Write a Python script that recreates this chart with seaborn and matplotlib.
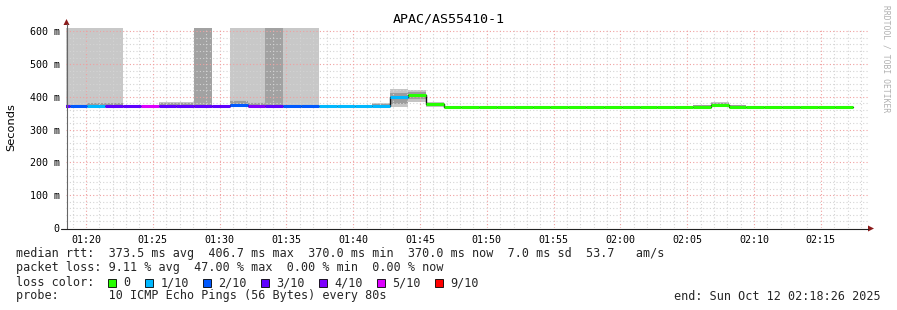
import numpy as np
import pandas as pd
import matplotlib
matplotlib.use("Agg")
import matplotlib.pyplot as plt
import matplotlib.dates as mdates
from matplotlib.patches import Rectangle
import seaborn as sns

# ---------------- data ----------------
step_start = pd.date_range("2025-10-12 01:17:26", periods=45, freq="80s")
step_seconds = 80

median_ms = [373, 373, 373, 373, 373, 373, 373, 373, 373, 373,
             375, 373, 373, 373, 373, 371, 371, 371, 371, 400,
             405, 378, 370, 370, 370, 370, 370, 370, 370, 370,
             370, 370, 370, 370, 370, 370, 370, 375, 370, 370,
             370, 370, 370, 370, 370]

loss_count = [3, 2, 1, 3, 3, 5, 3, 3, 3, 3,
              2, 4, 3, 2, 2, 1, 1, 1, 1, 1,
              0, 0, 0, 0, 0, 0, 0, 0, 0, 0,
              0, 0, 0, 0, 0, 0, 0, 0, 0, 0,
              0, 0, 0, 0, 0]

# smoke reaching past the top of the graph: 0 none, 1 light, 2 dark
full_smoke = [1, 1, 1, 1, 0, 0, 0, 0, 2, 0,
              1, 1, 2, 1, 1, 0, 0, 0, 0, 0,
              0, 0, 0, 0, 0, 0, 0, 0, 0, 0,
              0, 0, 0, 0, 0, 0, 0, 0, 0, 0,
              0, 0, 0, 0, 0]

nan = np.nan
smoke_lo = [nan, nan, 373, 373, nan, nan, 373, 373, nan, nan,
            373, 372, nan, nan, nan, nan, nan, nan, 371, 368,
            385, 370, nan, nan, nan, nan, nan, nan, nan, nan,
            nan, nan, nan, nan, nan, nan, 370, 370, 370, nan,
            nan, nan, nan, nan, nan]
smoke_hi = [nan, nan, 382, 382, nan, nan, 385, 385, nan, nan,
            390, 385, nan, nan, nan, nan, nan, nan, 381, 424,
            422, 383, nan, nan, nan, nan, nan, nan, nan, nan,
            nan, nan, nan, nan, nan, nan, 375, 385, 375, nan,
            nan, nan, nan, nan, nan]

loss_levels = [0, 1, 2, 3, 4, 5, 9]
loss_labels = ["0", "1/10", "2/10", "3/10", "4/10", "5/10", "9/10"]
loss_colors = ["#26ff00", "#00b8ff", "#0059ff", "#5e00ff", "#7e00ff", "#dd00ff", "#ff0000"]

y_ticks = [0, 100, 200, 300, 400, 500, 600]

title = "APAC/AS55410-1"
line_rtt = "median rtt:  373.5 ms avg  406.7 ms max  370.0 ms min  370.0 ms now  7.0 ms sd  53.7   am/s"
line_loss = "packet loss: 9.11 % avg  47.00 % max  0.00 % min  0.00 % now"
line_probe = "probe:       10 ICMP Echo Pings (56 Bytes) every 80s"
line_end = "end: Sun Oct 12 02:18:26 2025"

# ---------------- figure ----------------
sns.set_theme(style="white")
plt.rcParams["font.family"] = ["DejaVu Sans Mono", "DejaVu Sans"]

W, H = 897, 310
fig = plt.figure(figsize=(W / 100, H / 100), dpi=100)
fig.patch.set_facecolor("white")

def fx(px):
    return px / W

def fy(py):
    return 1 - py / H

ax = fig.add_axes([fx(66), fy(228), fx(868) - fx(66), fy(28) - fy(228)])
ax.set_facecolor("white")

x0 = mdates.date2num(step_start.to_pydatetime())
dstep = step_seconds / 86400.0
x1 = x0 + dstep
ymax = 610

# smoke reaching the top (starts at the median)
for xs, s, m in zip(x0, full_smoke, median_ms):
    if s:
        ax.bar(xs, ymax + 20 - m, width=dstep, align="edge", bottom=m,
               color="#c8c8c8" if s == 1 else "#a2a2a2", linewidth=0, zorder=1)

# small smoke bands
for xs, lo, hi in zip(x0, smoke_lo, smoke_hi):
    if np.isnan(lo):
        continue
    ax.bar(xs, hi - lo, width=dstep, align="edge", bottom=lo,
           color="#c4c4c4", linewidth=0, zorder=2)
    clo = lo + 0.2 * (hi - lo)
    chi = hi - 0.2 * (hi - lo)
    ax.bar(xs, chi - clo, width=dstep, align="edge", bottom=clo,
           color="#9c9c9c", linewidth=0, zorder=2)

# black median step line
df = pd.DataFrame({"t": list(x0) + [x1[-1]], "ms": median_ms + [median_ms[-1]]})
sns.lineplot(data=df, x="t", y="ms", drawstyle="steps-post", color="#111111",
             linewidth=1.0, ax=ax, legend=False, zorder=3)

# coloured median segments by loss
cmap = dict(zip(loss_levels, loss_colors))
for a, b, m, l in zip(x0, x1, median_ms, loss_count):
    ax.hlines(m, a, b, colors=cmap[l], linewidth=2.2, zorder=4)

# axes ranges
xmin = mdates.date2num(pd.Timestamp("2025-10-12 01:18:30").to_pydatetime())
xmax = mdates.date2num(pd.Timestamp("2025-10-12 02:18:32").to_pydatetime())
ax.set_xlim(xmin, xmax)
ax.set_ylim(0, ymax)

# grid (drawn above smoke, below the median line)
ax.xaxis.set_major_locator(mdates.MinuteLocator(byminute=range(0, 60, 5)))
ax.xaxis.set_minor_locator(mdates.MinuteLocator())
ax.xaxis.set_major_formatter(mdates.DateFormatter("%H:%M"))
ax.set_yticks(y_ticks)
ax.set_yticklabels(["0" if v == 0 else f"{v} m" for v in y_ticks])
ax.set_yticks(np.arange(0, 611, 20), minor=True)
ax.set_axisbelow(False)
ax.grid(which="minor", color="#d4d4d4", linestyle=(0, (1, 2)), linewidth=0.8)
ax.grid(which="major", color="#f0a0a0", linestyle=(0, (1, 2)), linewidth=0.8)

ax.tick_params(axis="both", which="both", length=0, labelsize=7.2, colors="#000000")
ax.tick_params(axis="x", pad=5)
ax.tick_params(axis="y", pad=4.5)
ax.set_xlabel("")
ax.set_ylabel("")

for sp in ["top", "right", "left", "bottom"]:
    ax.spines[sp].set_visible(False)

# axis lines and arrows
fig.add_artist(plt.Line2D([fx(66.5), fx(66.5)], [fy(229), fy(24)], color="#666666", lw=0.8))
fig.add_artist(plt.Line2D([fx(61), fx(868)], [fy(228.5), fy(228.5)], color="#222222", lw=0.8))
fig.add_artist(plt.Polygon([[fx(63.5), fy(25)], [fx(69.5), fy(25)], [fx(66.5), fy(19)]],
                           closed=True, color="#8b1a1a", lw=0))
fig.add_artist(plt.Polygon([[fx(868), fy(225.5)], [fx(868), fy(231.5)], [fx(874), fy(228.5)]],
                           closed=True, color="#8b1a1a", lw=0))

# texts
fig.text(0.5, fy(19), title, ha="center", va="center", fontsize=9.6, color="#000000")
fig.text(fx(11), fy(127), "Seconds", rotation=90, ha="center", va="center",
         fontsize=8.2, family="DejaVu Sans", color="#000000")
fig.text(fx(886), fy(59), "RRDTOOL / TOBI OETIKER", rotation=270, ha="center", va="center",
         fontsize=5.8, color="#b0b0b0")

fs = 8.5
fig.text(fx(16), fy(254), line_rtt, ha="left", va="center", fontsize=fs)
fig.text(fx(16), fy(268), line_loss, ha="left", va="center", fontsize=fs)
fig.text(fx(16), fy(282.5), "loss color:", ha="left", va="center", fontsize=fs)
fig.text(fx(16), fy(296), line_probe, ha="left", va="center", fontsize=fs)
fig.text(fx(881), fy(296), line_end, ha="right", va="center", fontsize=fs)

sq_x = [108, 145, 203, 261, 319, 377, 435]
for sx, col, lab in zip(sq_x, loss_colors, loss_labels):
    fig.add_artist(Rectangle((fx(sx), fy(287)), fx(8), 8 / H, facecolor=col,
                             edgecolor="#000000", lw=0.6, transform=fig.transFigure))
    fig.text(fx(sx + 15.5), fy(282.5), lab, ha="left", va="center", fontsize=fs)

fig.savefig("out.png", dpi=100, facecolor="white")
